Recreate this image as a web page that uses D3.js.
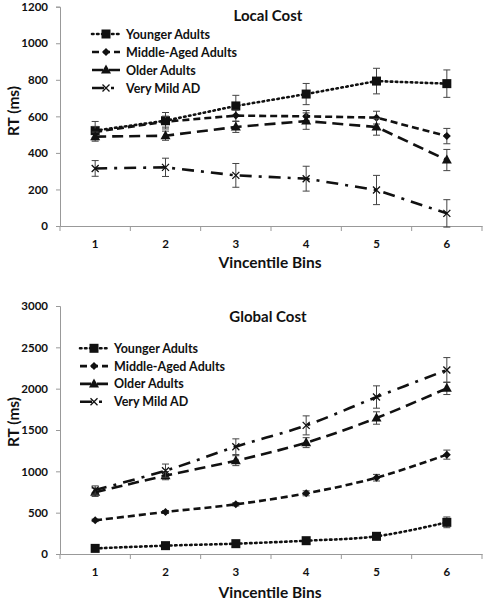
<!DOCTYPE html>
<html><head><meta charset="utf-8">
<script src="https://cdn.jsdelivr.net/npm/d3@7"></script>
<style>body{margin:0;background:#fff}text{font-family:Lato,"Open Sans",sans-serif;font-weight:bold;fill:#111}</style>
</head><body><svg id="c" width="485" height="600"></svg>
<script>
const bins = ["1","2","3","4","5","6"];
const seriesNames = ["Younger Adults","Middle-Aged Adults","Older Adults","Very Mild AD"];
// Local cost
const localYounger = [522,576,657,722,793,779];
const localYoungerErr = [50,45,58,58,70,75];
const localMiddle = [515,571,604,600,593,492];
const localMiddleErr = [30,30,30,32,35,42];
const localOlder = [489,494,542,574,542,361];
const localOlderErr = [25,25,30,45,45,58];
const localAD = [315,321,277,259,197,69];
const localADErr = [43,50,65,68,80,75];
const localTicks = [0,200,400,600,800,1000,1200];
// Global cost
const globalYounger = [68,101,125,161,214,383];
const globalYoungerErr = [15,18,20,22,40,65];
const globalMiddle = [407,508,601,734,923,1202];
const globalMiddleErr = [15,18,20,30,40,55];
const globalOlder = [746,948,1129,1347,1645,2004];
const globalOlderErr = [50,50,60,60,75,75];
const globalAD = [774,1008,1298,1556,1899,2226];
const globalADErr = [50,80,95,115,135,150];
const globalTicks = [0,500,1000,1500,2000,2500,3000];

const styles = [
  {dash:"1.5,3.5", cap:"round", marker:"square"},
  {dash:"7,4", cap:"butt", marker:"diamond"},
  {dash:"11,6", cap:"butt", marker:"triangle"},
  {dash:"12,7,3,7", cap:"butt", marker:"x"}
];

const svg = d3.select("#c");

function drawMarker(g, type, x, y){
  if(type==="square") g.append("rect").attr("x",x-4.5).attr("y",y-4.5).attr("width",9).attr("height",9).attr("fill","#111");
  else if(type==="diamond") g.append("path").attr("d",`M${x},${y-4}L${x+4},${y}L${x},${y+4}L${x-4},${y}Z`).attr("fill","#111");
  else if(type==="triangle") g.append("path").attr("d",`M${x},${y-5.5}L${x+5},${y+3.5}L${x-5},${y+3.5}Z`).attr("fill","#111");
  else { g.append("path").attr("d",`M${x-3.5},${y-3.5}L${x+3.5},${y+3.5}M${x-3.5},${y+3.5}L${x+3.5},${y-3.5}`).attr("stroke","#111").attr("stroke-width",1.3); }
}

function chart(cfg){
  const g = svg.append("g").attr("transform",`translate(0,${cfg.top})`);
  const x = d3.scaleBand().domain(bins).range([60,482]);
  const y = d3.scaleLinear().domain([0,cfg.max]).range([cfg.h,cfg.h0]);
  const ya = g.append("g").attr("transform","translate(60,0)").call(d3.axisLeft(y).tickValues(cfg.ticks).tickFormat(d3.format("d")).tickSize(4).tickPadding(8));
  ya.select(".domain").attr("stroke","#999");
  ya.selectAll(".tick line").attr("stroke","#999");
  ya.selectAll("text").attr("font-size",11.5).style("font-family","Lato,sans-serif").style("font-weight","bold").attr("fill","#111");
  const xa = g.append("g").attr("transform",`translate(0,${cfg.h})`).call(d3.axisBottom(x).tickSize(0).tickPadding(14));
  xa.select(".domain").attr("stroke","#999");
  xa.selectAll("text").attr("font-size",11.5).style("font-family","Lato,sans-serif").style("font-weight","bold").attr("fill","#111");
  const bounds = bins.map(b=>x(b)).concat([482]);
  g.append("g").selectAll("line").data(bounds).join("line")
    .attr("x1",d=>d).attr("x2",d=>d).attr("y1",cfg.h).attr("y2",cfg.h+5).attr("stroke","#999");
  g.append("text").attr("x",268).attr("y",cfg.titleY).attr("text-anchor","middle").attr("font-size",15).text(cfg.title);
  g.append("text").attr("x",270).attr("y",cfg.xTitleY).attr("text-anchor","middle").attr("font-size",15.5).text("Vincentile Bins");
  g.append("text").attr("transform",`translate(19,${cfg.yTitleC}) rotate(-90)`).attr("text-anchor","middle").attr("font-size",15.5).text("RT (ms)");
  const cx = d => x(d)+x.bandwidth()/2;
  const line = d3.line().x((d,i)=>cx(bins[i])).y(d=>y(d)).curve(cfg.curve);
  cfg.series.forEach((s,k)=>{
    const st = styles[k];
    const eb = g.append("g").attr("stroke","#444").attr("stroke-width",1);
    s.v.forEach((v,i)=>{
      const xx = cx(bins[i]);
      eb.append("line").attr("x1",xx).attr("x2",xx).attr("y1",y(v-s.e[i])).attr("y2",y(v+s.e[i]));
      eb.append("line").attr("x1",xx-3.5).attr("x2",xx+3.5).attr("y1",y(v-s.e[i])).attr("y2",y(v-s.e[i]));
      eb.append("line").attr("x1",xx-3.5).attr("x2",xx+3.5).attr("y1",y(v+s.e[i])).attr("y2",y(v+s.e[i]));
    });
    g.append("path").attr("d",line(s.v)).attr("fill","none").attr("stroke","#111")
      .attr("stroke-width",2.6).attr("stroke-dasharray",st.dash).attr("stroke-linecap",st.cap);
    const mg = g.append("g");
    s.v.forEach((v,i)=>drawMarker(mg, st.marker, cx(bins[i]), y(v)));
  });
  seriesNames.forEach((n,k)=>{
    const st = styles[k];
    const ly = cfg.legY + k*cfg.legStep;
    g.append("line").attr("x1",cfg.legX).attr("x2",cfg.legX+28).attr("y1",ly).attr("y2",ly)
      .attr("stroke","#111").attr("stroke-width",2.6).attr("stroke-dasharray",st.dash).attr("stroke-linecap",st.cap);
    drawMarker(g, st.marker, cfg.legX+14, ly);
    g.append("text").attr("x",cfg.legX+34).attr("y",ly+4.5).attr("font-size",12.5).text(n);
  });
}

chart({top:0, h:226, h0:6.7, max:1200, ticks:localTicks, title:"Local Cost", titleY:21, xTitleY:268, yTitleC:111,
  curve:d3.curveLinear, legX:92, legY:34, legStep:18,
  series:[{v:localYounger,e:localYoungerErr},{v:localMiddle,e:localMiddleErr},{v:localOlder,e:localOlderErr},{v:localAD,e:localADErr}]});
chart({top:300, h:254, h0:6, max:3000, ticks:globalTicks, title:"Global Cost", titleY:22, xTitleY:298, yTitleC:122,
  curve:d3.curveCatmullRom, legX:80, legY:48.3, legStep:17.8,
  series:[{v:globalYounger,e:globalYoungerErr},{v:globalMiddle,e:globalMiddleErr},{v:globalOlder,e:globalOlderErr},{v:globalAD,e:globalADErr}]});
</script></body></html>
